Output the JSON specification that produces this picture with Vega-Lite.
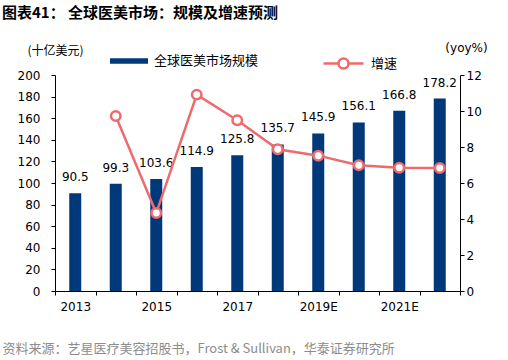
{
  "$schema": "https://vega.github.io/schema/vega-lite/v6.json",
  "width": 405,
  "height": 216,
  "autosize": "none",
  "padding": {"left": 55, "top": 75, "right": 48, "bottom": 69},
  "background": "white",
  "config": {
    "view": {"stroke": null},
    "font": "DejaVu Sans",
    "axis": {"grid": false, "domainColor": "#000", "tickColor": "#000", "labelColor": "#000", "labelFont": "DejaVu Sans", "labelFontSize": 12, "tickSize": 4, "domainWidth": 1, "tickWidth": 1}
  },
  "title": {
    "text": "图表41：  全球医美市场：规模及增速预测",
    "anchor": "start",
    "frame": "group",
    "dx": -53,
    "offset": 20,
    "font": "Noto Sans CJK SC",
    "fontSize": 15,
    "fontWeight": "bold",
    "color": "#000"
  },
  "data": {
    "values": [
      {"year": "2013", "v": 90.5, "g": null},
      {"year": "2014", "v": 99.3, "g": 9.72},
      {"year": "2015", "v": 103.6, "g": 4.33},
      {"year": "2016", "v": 114.9, "g": 10.91},
      {"year": "2017", "v": 125.8, "g": 9.49},
      {"year": "2018", "v": 135.7, "g": 7.87},
      {"year": "2019E", "v": 145.9, "g": 7.52},
      {"year": "2020E", "v": 156.1, "g": 6.99},
      {"year": "2021E", "v": 166.8, "g": 6.85},
      {"year": "2022E", "v": 178.2, "g": 6.83}
    ]
  },
  "encoding": {
    "x": {
      "field": "year",
      "type": "nominal",
      "sort": null,
      "scale": {"paddingInner": 0, "paddingOuter": 0},
      "axis": {
        "labelAngle": 0,
        "tickBand": "extent",
        "labelPadding": 6,
        "labelExpr": "indexof(['2013','2015','2017','2019E','2021E'], datum.value) >= 0 ? datum.value : ''",
        "title": "资料来源：艺星医疗美容招股书，Frost & Sullivan，华泰证券研究所",
        "titleFont": "Noto Sans CJK SC",
        "titleFontSize": 13,
        "titleFontWeight": "normal",
        "titleColor": "#8c8c8c",
        "titleAlign": "left",
        "titleAnchor": "start",
        "titleBaseline": "middle",
        "titleX": -53,
        "titleY": 57
      }
    }
  },
  "layer": [
    {
      "encoding": {
        "y": {
          "field": "v",
          "type": "quantitative",
          "scale": {"domain": [0, 200], "nice": false},
          "axis": {
            "orient": "left",
            "values": [0, 20, 40, 60, 80, 100, 120, 140, 160, 180, 200],
            "labelPadding": 11,
            "title": "(十亿美元)",
            "titleFont": "Noto Sans CJK SC",
            "titleFontSize": 12,
            "titleFontWeight": "normal",
            "titleAngle": 0,
            "titleAlign": "center",
            "titleBaseline": "middle",
            "titleX": 0,
            "titleY": -25
          }
        }
      },
      "layer": [
        {
          "mark": {"type": "bar", "width": 12},
          "encoding": {
            "fill": {
              "datum": "全球医美市场规模",
              "scale": {"range": ["#00387A"]},
              "legend": {
                "orient": "none",
                "legendX": 55,
                "legendY": -33,
                "title": null,
                "symbolType": "M-1,-0.14H1V0.14H-1Z",
                "symbolSize": 1444,
                "symbolStrokeWidth": 0,
                "labelFont": "Noto Sans CJK SC",
                "labelFontSize": 13,
                "labelColor": "#000",
                "labelOffset": 6,
                "padding": 0
              }
            }
          }
        },
        {
          "mark": {"type": "text", "baseline": "bottom", "dy": -9, "fontSize": 12, "font": "DejaVu Sans", "color": "#000"},
          "encoding": {"text": {"field": "v", "type": "quantitative", "format": ".1f"}}
        }
      ]
    },
    {
      "transform": [{"filter": "datum.g != null"}],
      "encoding": {
        "y": {
          "field": "g",
          "type": "quantitative",
          "scale": {"domain": [0, 12], "nice": false},
          "axis": {
            "orient": "right",
            "values": [0, 2, 4, 6, 8, 10, 12],
            "labelPadding": 2,
            "title": "(yoy%)",
            "titleFont": "DejaVu Sans",
            "titleFontSize": 12,
            "titleFontWeight": "normal",
            "titleAngle": 0,
            "titleAlign": "center",
            "titleBaseline": "middle",
            "titleX": 6,
            "titleY": -28
          }
        },
        "stroke": {
          "datum": "增速",
          "scale": {"range": ["#EF6A6D"]},
          "legend": {
            "orient": "none",
            "legendX": 267,
            "legendY": -33,
            "title": null,
            "symbolType": "M-1,0H-0.25M0.25,0H1M-0.25,0A0.25,0.25 0 1,0 0.25,0A0.25,0.25 0 1,0 -0.25,0",
            "symbolSize": 1600,
            "symbolStrokeWidth": 2.5,
            "symbolFillColor": "white",
            "labelFont": "Noto Sans CJK SC",
            "labelFontSize": 13,
            "labelColor": "#000",
            "labelOffset": 6,
            "padding": 0
          }
        }
      },
      "layer": [
        {"mark": {"type": "line", "strokeWidth": 2.5}},
        {"mark": {"type": "point", "filled": false, "fill": "white", "opacity": 1, "size": 90, "strokeWidth": 2.5}}
      ]
    }
  ],
  "resolve": {"scale": {"y": "independent", "fill": "independent", "stroke": "independent"}}
}
